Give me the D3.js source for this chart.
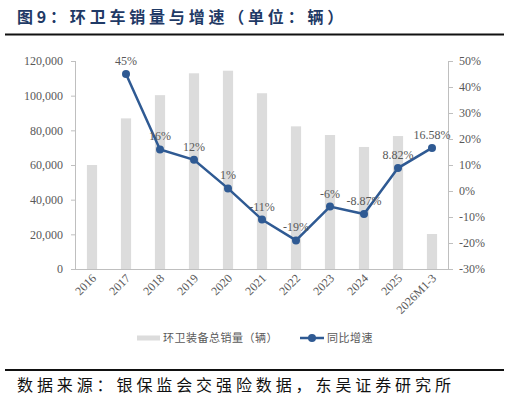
<!DOCTYPE html>
<html>
<head>
<meta charset="utf-8">
<script src="https://cdn.jsdelivr.net/npm/d3@7"></script>
<style>
  body { margin: 0; background: #fff; }
  svg { display: block; }
</style>
</head>
<body>
<svg width="509" height="403"></svg>
<script>
const categories = ['2016', '2017', '2018', '2019', '2020', '2021', '2022', '2023', '2024', '2025', '2026M1-3'];
const sales = [60000, 86900, 100300, 112900, 114400, 101400, 82300, 77300, 70400, 76700, 20200];
const growth = [null, 45, 16, 12, 1, -11, -19, -6, -8.87, 8.82, 16.58];
const growthLabels = ['', '45%', '16%', '12%', '1%', '-11%', '-19%', '-6%', '-8.87%', '8.82%', '16.58%'];
const leftTicks = [0, 20000, 40000, 60000, 80000, 100000, 120000];
const rightTicks = [-30, -20, -10, 0, 10, 20, 30, 40, 50];

const svg = d3.select('svg');
const serif = '"Liberation Serif", "Times New Roman", serif';
const cjk = '"Noto Sans CJK SC", sans-serif';
const axisGrey = '#bfbfbf';
const textGrey = '#595959';

// title + rules
svg.append('text')
    .attr('x', 17)
    .attr('y', 23)
    .attr('font-family', cjk)
    .attr('font-weight', 'bold')
    .attr('font-size', 16)
    .attr('letter-spacing', 3.8)
    .attr('fill', '#1f3a66')
    .text('图9：环卫车销量与增速（单位：辆）');
svg.append('line')
    .attr('x1', 5).attr('x2', 504)
    .attr('y1', 34.5).attr('y2', 34.5)
    .attr('stroke', '#111').attr('stroke-width', 2);
svg.append('line')
    .attr('x1', 5).attr('x2', 504)
    .attr('y1', 370).attr('y2', 370)
    .attr('stroke', '#111').attr('stroke-width', 2);
svg.append('text')
    .attr('x', 17)
    .attr('y', 391)
    .attr('font-family', cjk)
    .attr('font-size', 16)
    .attr('letter-spacing', 3.9)
    .attr('fill', '#111')
    .text('数据来源：银保监会交强险数据，东吴证券研究所');

const plotLeft = 75, plotRight = 449, plotTop = 61, plotBottom = 269;

const xScale = d3.scaleBand()
    .domain(categories)
    .range([plotLeft, plotRight])
    .paddingInner(0.7)
    .paddingOuter(0.35);
const yLeft = d3.scaleLinear().domain([0, 120000]).range([plotBottom, plotTop]);
const yRight = d3.scaleLinear().domain([-30, 50]).range([plotBottom, plotTop]);

const chart = svg.append('g').attr('class', 'chart');

// bars
chart.selectAll('rect.bar')
    .data(sales)
    .enter()
    .append('rect')
    .attr('class', 'bar')
    .attr('x', (d, i) => xScale(categories[i]))
    .attr('y', d => yLeft(d))
    .attr('width', xScale.bandwidth())
    .attr('height', d => plotBottom - yLeft(d))
    .attr('fill', '#dcdcdc');

// axes
const leftAxis = d3.axisLeft(yLeft)
    .tickValues(leftTicks)
    .tickSize(4)
    .tickPadding(8)
    .tickFormat(d3.format(','));
const gLeft = chart.append('g')
    .attr('transform', `translate(${plotLeft},0)`)
    .call(leftAxis);

const rightAxis = d3.axisRight(yRight)
    .tickValues(rightTicks)
    .tickSize(4)
    .tickPadding(6)
    .tickFormat(d => d + '%');
const gRight = chart.append('g')
    .attr('transform', `translate(${plotRight},0)`)
    .call(rightAxis);

const xAxis = d3.axisBottom(xScale).tickSize(0).tickPadding(0);
const gX = chart.append('g')
    .attr('transform', `translate(0,${plotBottom})`)
    .call(xAxis);
gX.selectAll('text')
    .attr('text-anchor', 'end')
    .attr('dy', 0)
    .attr('transform', 'translate(5,10) rotate(-45)');

[gLeft, gRight, gX].forEach(g => {
  g.select('.domain').attr('stroke', axisGrey);
  g.selectAll('.tick line').attr('stroke', axisGrey);
  g.selectAll('text')
      .attr('font-family', serif)
      .attr('font-size', 12)
      .attr('fill', textGrey);
});
gLeft.select('.domain').attr('d', `M0.5,${plotTop}V${plotBottom}`);
gRight.select('.domain').attr('d', `M-0.5,${plotTop}V${plotBottom}`);
gX.select('.domain').attr('d', `M${plotLeft - 3},0.5H${plotRight}`);

// growth line
const pts = growth.map((g, i) => ({ g, i })).filter(d => d.g !== null);
const cx = d => xScale(categories[d.i]) + xScale.bandwidth() / 2;
const line = d3.line().x(cx).y(d => yRight(d.g));
chart.append('path')
    .attr('d', line(pts))
    .attr('fill', 'none')
    .attr('stroke', '#2f5a93')
    .attr('stroke-width', 2.5);
chart.selectAll('circle.pt')
    .data(pts)
    .enter()
    .append('circle')
    .attr('class', 'pt')
    .attr('cx', cx)
    .attr('cy', d => yRight(d.g))
    .attr('r', 4)
    .attr('fill', '#2f5a93');
chart.selectAll('text.lbl')
    .data(pts)
    .enter()
    .append('text')
    .attr('class', 'lbl')
    .attr('x', cx)
    .attr('y', d => yRight(d.g) - 9)
    .attr('text-anchor', 'middle')
    .attr('font-family', serif)
    .attr('font-size', 12)
    .attr('fill', textGrey)
    .text(d => growthLabels[d.i]);

// legend
const legend = svg.append('g').attr('transform', 'translate(0,338)');
legend.append('rect')
    .attr('x', 137).attr('y', -2.5)
    .attr('width', 23).attr('height', 5)
    .attr('fill', '#dcdcdc');
legend.append('text')
    .attr('x', 163).attr('y', 4)
    .attr('font-family', cjk)
    .attr('font-size', 11)
    .attr('letter-spacing', 0.5)
    .attr('fill', textGrey)
    .text('环卫装备总销量（辆）');
legend.append('line')
    .attr('x1', 300).attr('x2', 324)
    .attr('y1', 0).attr('y2', 0)
    .attr('stroke', '#2f5a93').attr('stroke-width', 2.5);
legend.append('circle')
    .attr('cx', 312).attr('cy', 0).attr('r', 4)
    .attr('fill', '#2f5a93');
legend.append('text')
    .attr('x', 327).attr('y', 4)
    .attr('font-family', cjk)
    .attr('font-size', 11)
    .attr('letter-spacing', 0.5)
    .attr('fill', textGrey)
    .text('同比增速');
</script>
</body>
</html>
